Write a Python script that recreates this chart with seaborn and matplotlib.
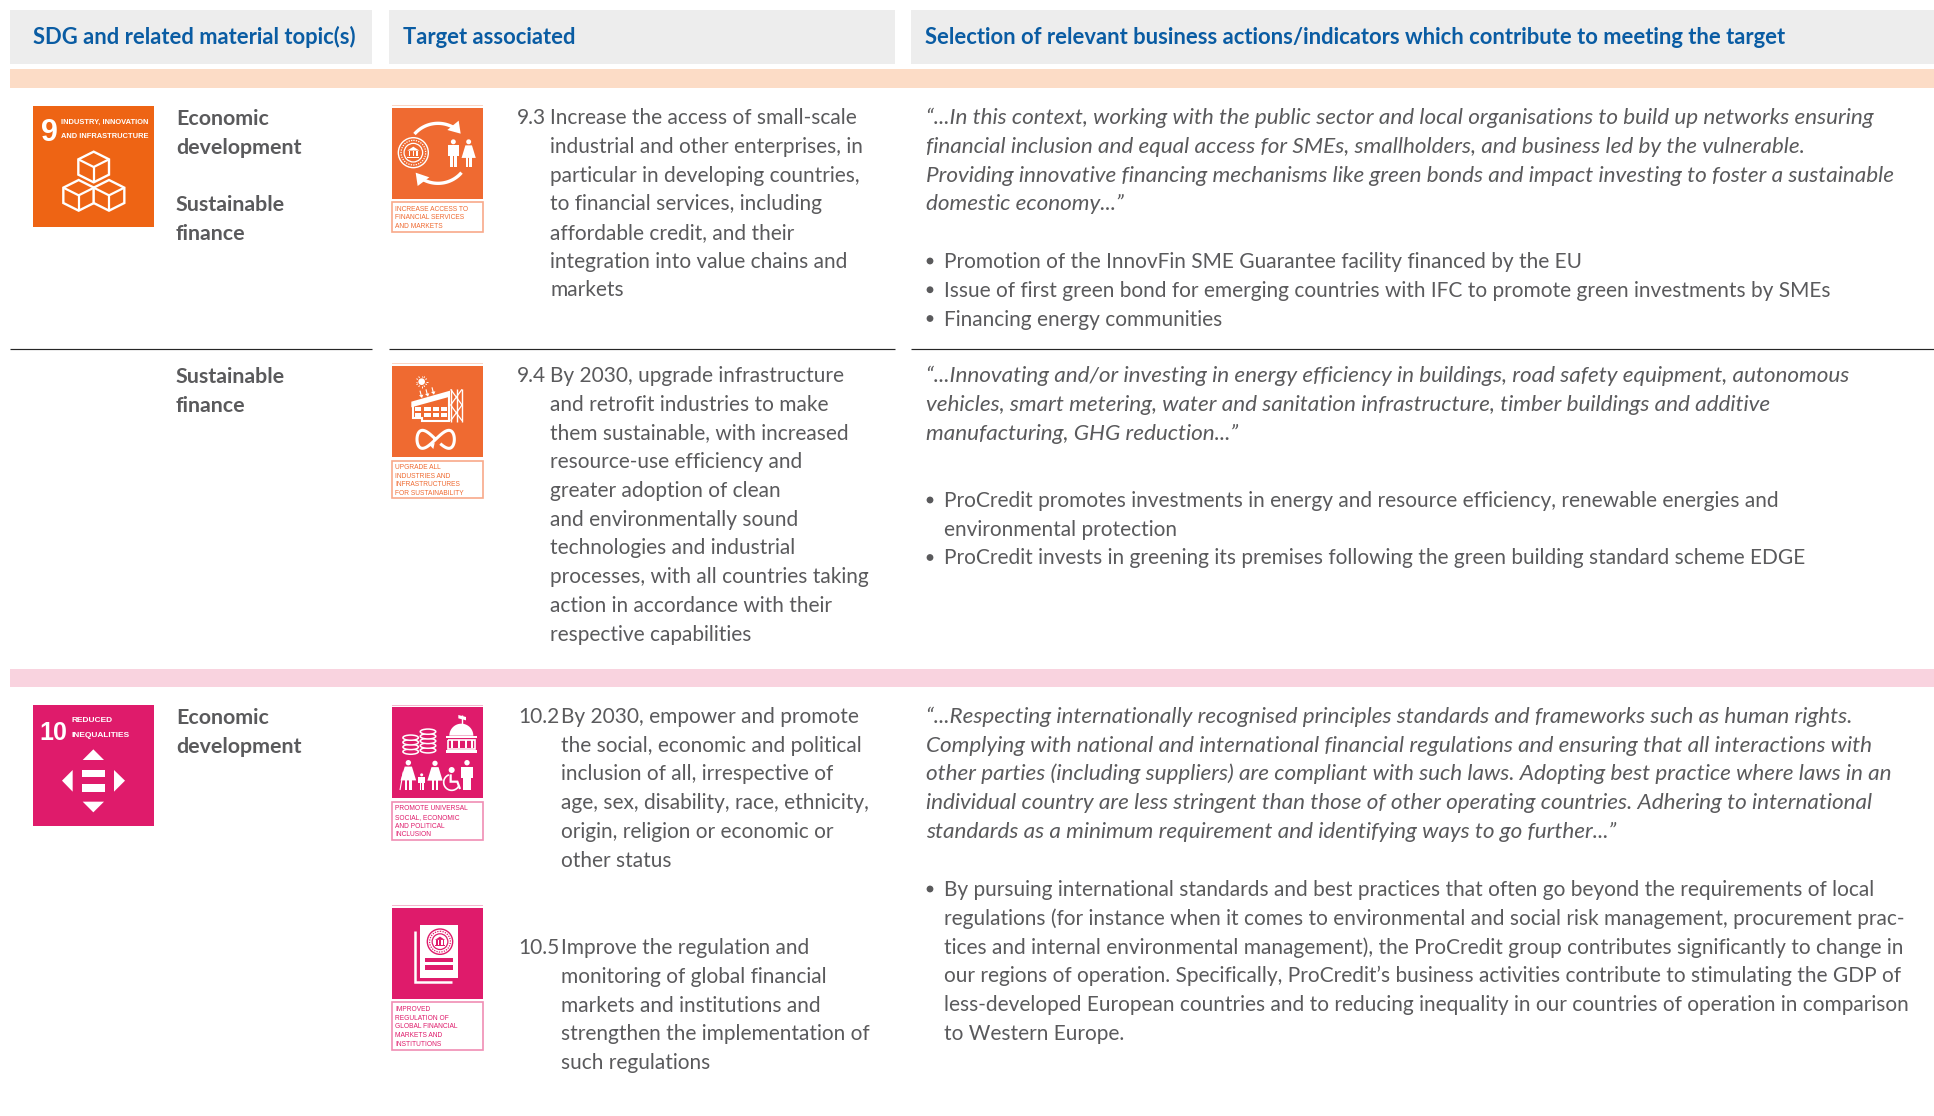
import numpy as np
import matplotlib
matplotlib.use('Agg')
import matplotlib.pyplot as plt
from matplotlib.patches import Rectangle, Polygon, Circle, Ellipse
import seaborn as sns

# Texts of the table
header_labels = ['SDG and related material topic(s)', 'Target associated',
                 'Selection of relevant business actions/indicators which contribute to meeting the target']

topics_9 = ['Economic', 'development', '', 'Sustainable', 'finance']
topics_94 = ['Sustainable', 'finance']
topics_10 = ['Economic', 'development']

target_93 = ['Increase the access of small-scale', 'industrial and other enterprises, in',
             'particular in developing countries,', 'to financial services, including',
             'affordable credit, and their', 'integration into value chains and', 'markets']
target_94 = ['By 2030, upgrade infrastructure', 'and retrofit industries to make',
             'them sustainable, with increased', 'resource-use efficiency and',
             'greater adoption of clean', 'and environmentally sound',
             'technologies and industrial', 'processes, with all countries taking',
             'action in accordance with their', 'respective capabilities']
target_102 = ['By 2030, empower and promote', 'the social, economic and political',
              'inclusion of all, irrespective of', 'age, sex, disability, race, ethnicity,',
              'origin, religion or economic or', 'other status']
target_105 = ['Improve the regulation and', 'monitoring of global financial',
              'markets and institutions and', 'strengthen the implementation of',
              'such regulations']

quote_93 = ['“...In this context, working with the public sector and local organisations to build up networks ensuring',
            'financial inclusion and equal access for SMEs, smallholders, and business led by the vulnerable.',
            'Providing innovative financing mechanisms like green bonds and impact investing to foster a sustainable',
            'domestic economy...”']
bullets_93 = [['Promotion of the InnovFin SME Guarantee facility financed by the EU'],
              ['Issue of first green bond for emerging countries with IFC to promote green investments by SMEs'],
              ['Financing energy communities']]
quote_94 = ['“...Innovating and/or investing in energy efficiency in buildings, road safety equipment, autonomous',
            'vehicles, smart metering, water and sanitation infrastructure, timber buildings and additive',
            'manufacturing, GHG reduction...”']
bullets_94 = [['ProCredit promotes investments in energy and resource efficiency, renewable energies and',
               'environmental protection'],
              ['ProCredit invests in greening its premises following the green building standard scheme EDGE']]
quote_10 = ['“...Respecting internationally recognised principles standards and frameworks such as human rights.',
            'Complying with national and international financial regulations and ensuring that all interactions with',
            'other parties (including suppliers) are compliant with such laws. Adopting best practice where laws in an',
            'individual country are less stringent than those of other operating countries. Adhering to international',
            'standards as a minimum requirement and identifying ways to go further...”']
bullets_10 = [['By pursuing international standards and best practices that often go beyond the requirements of local',
               'regulations (for instance when it comes to environmental and social risk management, procurement prac-',
               'tices and internal environmental management), the ProCredit group contributes significantly to change in',
               'our regions of operation. Specifically, ProCredit’s business activities contribute to stimulating the GDP of',
               'less-developed European countries and to reducing inequality in our countries of operation in comparison',
               'to Western Europe.']]

label_93 = ['INCREASE ACCESS TO', 'FINANCIAL SERVICES', 'AND MARKETS']
label_94 = ['UPGRADE ALL', 'INDUSTRIES AND', 'INFRASTRUCTURES', 'FOR SUSTAINABILITY']
label_102 = ['PROMOTE UNIVERSAL', 'SOCIAL, ECONOMIC', 'AND POLITICAL', 'INCLUSION']
label_105 = ['IMPROVED', 'REGULATION OF', 'GLOBAL FINANCIAL', 'MARKETS AND', 'INSTITUTIONS']

BLUE = '#0A5CA3'
GREY = '#5A5A5C'
HEAD_BG = '#EDEDED'
ORANGE = '#EE6414'
ORANGE2 = '#EF6A31'
MAGENTA = '#DF1B6B'
PITCH = 28.75
BODY = 15.0
ITALIC = 16.2
SMALLCAPS = 'Liberation Sans'

sns.set_theme(style='white')
plt.rcParams['font.family'] = ['Lato', 'DejaVu Sans']

fig = plt.figure(figsize=(19.34, 11.16), dpi=100)
ax = fig.add_axes([0, 0, 1, 1])
ax.set_xlim(0, 1934)
ax.set_ylim(1116, 0)
sns.despine(ax=ax, left=True, bottom=True)
ax.axis('off')


def rect(x0, y0, x1, y1, **kw):
    kw.setdefault('lw', 0)
    ax.add_patch(Rectangle((x0, y0), x1 - x0, y1 - y0, **kw))


def lines(x, y, rows, size=BODY, pitch=PITCH, **kw):
    kw.setdefault('color', GREY)
    for i, row in enumerate(rows):
        ax.text(x, y + i * pitch, row, fontsize=size, va='baseline', ha='left', **kw)


def bullets(x, y, items):
    n = 0
    for item in items:
        ax.add_patch(Circle((x + 4, y + n * PITCH - 7), 3.4, color=GREY, lw=0))
        lines(x + 18, y + n * PITCH, item)
        n += len(item)


# zoom-crop coordinates (3x) back to pixels
def zp(pts, ox, oy):
    return [(ox + a / 3, oy + b / 3) for a, b in pts]


def poly(pts, ox, oy, color='white', **kw):
    kw.setdefault('lw', 0)
    ax.add_patch(Polygon(zp(pts, ox, oy), closed=True, facecolor=color, **kw))


def stroke(pts, ox, oy, lw=1.6, color='white', **kw):
    p = zp(pts, ox, oy)
    ax.plot([a for a, _ in p], [b for _, b in p], color=color, lw=lw,
            solid_capstyle='butt', solid_joinstyle='miter', **kw)


def ring(cx, cy, r, ox, oy, lw=1.0, color='white', fill='none', **kw):
    x, y = zp([(cx, cy)], ox, oy)[0]
    ax.add_patch(Circle((x, y), r / 3, facecolor=fill, edgecolor=color, lw=lw, **kw))


def box(a, b, c, d, ox, oy, color='white'):
    poly([(a, b), (c, b), (c, d), (a, d)], ox, oy, color=color)


def arc(cx, cy, rx, ry, a0, a1, ox, oy, lw=2.4, color='white'):
    t = np.radians(np.linspace(a0, a1, 40))
    stroke(list(zip(cx + rx * np.cos(t), cy + ry * np.sin(t))), ox, oy, lw=lw, color=color)


def person(cx, top, h, ox, oy, dress=False, color='white'):
    w = h * 0.2
    ring(cx, top + h * 0.09, h * 0.09, ox, oy, fill=color, color=color, lw=0)
    if dress:
        poly([(cx - w * 0.6, top + h * 0.22), (cx + w * 0.6, top + h * 0.22),
              (cx + w * 1.3, top + h * 0.68), (cx - w * 1.3, top + h * 0.68)], ox, oy, color=color)
        box(cx - w * 0.55, top + h * 0.66, cx - w * 0.15, top + h, ox, oy, color)
        box(cx + w * 0.15, top + h * 0.66, cx + w * 0.55, top + h, ox, oy, color)
    else:
        box(cx - w, top + h * 0.22, cx + w, top + h * 0.6, ox, oy, color)
        box(cx - w * 0.62, top + h * 0.55, cx - w * 0.08, top + h, ox, oy, color)
        box(cx + w * 0.08, top + h * 0.55, cx + w * 0.62, top + h, ox, oy, color)


def seal(cx, cy, r, ox, oy, color='white'):
    ring(cx, cy, r, ox, oy, lw=1.0, color=color)
    ring(cx, cy, r * 0.82, ox, oy, lw=0.9, color=color, linestyle=(0, (1, 1)))
    ring(cx, cy, r * 0.62, ox, oy, lw=0.9, color=color)
    s = r * 0.4
    poly([(cx - s, cy - s * 0.35), (cx, cy - s), (cx + s, cy - s * 0.35)], ox, oy, color=color)
    for dx in (-0.7, -0.1, 0.5):
        box(cx + dx * s, cy - s * 0.25, cx + (dx + 0.22) * s, cy + s * 0.6, ox, oy, color)
    box(cx - s, cy + s * 0.65, cx + s, cy + s * 0.85, ox, oy, color)


def cube(cx, top, ox, oy, hw=46, hh=23, edge=46):
    poly([(cx, top), (cx + hw, top + hh), (cx + hw, top + hh + edge), (cx, top + 2 * hh + edge),
          (cx - hw, top + hh + edge), (cx - hw, top + hh)], ox, oy, color=ORANGE,
         edgecolor='white', lw=1.7, joinstyle='miter')
    stroke([(cx - hw, top + hh), (cx, top + 2 * hh), (cx + hw, top + hh)], ox, oy)
    stroke([(cx, top + 2 * hh), (cx, top + 2 * hh + edge)], ox, oy)


def label_box(x0, y0, x1, y1, rows, color, pale, size=4.8, pitch=8.6):
    rect(x0, y0, x1, y1, facecolor='white', edgecolor=pale, lw=1.2)
    h = pitch * (len(rows) - 1)
    ytop = (y0 + y1) / 2 - h / 2 + 2.4
    lines(x0 + 3, ytop, rows, size=size, pitch=pitch, color=color, family=SMALLCAPS)


# Header and coloured bands
rect(10, 10, 372, 64, facecolor=HEAD_BG)
rect(389, 10, 895, 64, facecolor=HEAD_BG)
rect(911, 10, 1934, 64, facecolor=HEAD_BG)
rect(10, 69, 1934, 88, facecolor='#FCDCC6')
rect(10, 669, 1934, 687, facecolor='#F9D3DF')
for x0, x1 in [(10, 372), (389, 895), (911, 1934)]:
    ax.plot([x0, x1], [348.5, 348.5], color='#262626', lw=0.85, solid_capstyle='butt')

for x, text in zip([33, 403, 925], header_labels):
    ax.text(x, 44.5, text, fontsize=15.85, color=BLUE, fontweight='bold', va='baseline')

# Column 1
lines(176, 125, topics_9, size=15.4, weight='bold')
lines(176, 383, topics_94, size=15.4, weight='bold')
lines(176, 724, topics_10, size=15.4, weight='bold')

# Column 2
lines(517, 124, ['9.3'])
lines(550, 124, target_93)
lines(517, 382, ['9.4'])
lines(550, 382, target_94)
lines(518, 723, ['10.2'])
lines(561, 723, target_102)
lines(518, 954, ['10.5'])
lines(561, 954, target_105)

# Column 3
lines(926, 124, quote_93, size=ITALIC, style='italic')
bullets(926, 268, bullets_93)
lines(926, 382, quote_94, size=ITALIC, style='italic')
bullets(926, 507, bullets_94)
lines(926, 723, quote_10, size=ITALIC, style='italic')
bullets(926, 896, bullets_10)

# SDG 9 tile
rect(33, 106, 154, 227, facecolor=ORANGE)
ax.text(41, 141, '9', fontsize=22, color='white', fontweight='bold', family=SMALLCAPS, va='baseline')
lines(61, 123.4, ['INDUSTRY, INNOVATION', 'AND INFRASTRUCTURE'], size=5.4, pitch=14.5,
      color='white', family=SMALLCAPS, weight='bold')
cube(281, 455, 0, 0)
cube(236, 540, 0, 0)
cube(327, 540, 0, 0)

# Target 9.3 icon
ox, oy = 370, 90
rect(392, 108, 483, 199, facecolor=ORANGE2)
rect(392, 105, 483, 106, facecolor='#FBD5C4')
arc(204, 190, 92, 90, 220, 308, ox, oy)
poly([(272, 131), (232, 120), (266, 92)], ox, oy)
arc(204, 190, 92, 90, 40, 128, ox, oy)
poly([(137, 248), (178, 262), (143, 288)], ox, oy)
seal(130, 188, 45, ox, oy)
person(250, 148, 82, ox, oy)
person(296, 148, 82, ox, oy, dress=True)
label_box(392, 202, 483, 232, label_93, ORANGE2, '#F8A98A')

# Target 9.4 icon
ox, oy = 370, 350
rect(392, 366, 483, 457, facecolor=ORANGE2)
rect(392, 363, 483, 364, facecolor='#FBD5C4')
ring(155, 95, 10, ox, oy, fill='white', lw=0)
for a in np.radians(np.arange(0, 360, 30)):
    stroke([(155 + 13 * np.cos(a), 95 + 13 * np.sin(a)), (155 + 18 * np.cos(a), 95 + 18 * np.sin(a))],
           ox, oy, lw=0.7)
for ax_, ay_ in [(150, 122), (168, 118), (186, 112)]:
    stroke([(ax_, ay_), (ax_ + 4, ay_ + 16)], ox, oy, lw=0.8)
    poly([(ax_ - 3, ay_ + 14), (ax_ + 10, ay_ + 12), (ax_ + 6, ay_ + 22)], ox, oy)
poly([(124, 155), (240, 122), (240, 140), (124, 172)], ox, oy)
stroke([(128, 160), (128, 205), (156, 205), (156, 212), (236, 212), (236, 130)], ox, oy, lw=1.5)
for wx in (134, 162, 188, 212):
    box(wx, 170, wx + 20, 184, ox, oy)
    box(wx, 188, wx + 20, 202, ox, oy)
for sx in (242, 260, 276):
    stroke([(sx, 118), (sx, 215)], ox, oy, lw=1.0)
for sy in (118, 165):
    stroke([(242, sy), (276, sy + 47)], ox, oy, lw=0.9)
    stroke([(276, sy), (242, sy + 47)], ox, oy, lw=0.9)
t = np.linspace(0.25, 2 * np.pi - 0.05, 120)
stroke(list(zip(197 + 56 * np.sin(t), 268 + 27 * np.sin(2 * t))), ox, oy, lw=2.2)
poly([(176, 282), (194, 279), (190, 297)], ox, oy)
label_box(392, 461, 483, 498, label_94, ORANGE2, '#F8A98A')

# SDG 10 tile
ox, oy = 20, 690
rect(33, 705, 154, 826, facecolor=MAGENTA)
ax.text(39, 740, '10', fontsize=18, color='white', fontweight='bold', family=SMALLCAPS, va='baseline')
lines(71, 722.5, ['REDUCED', 'INEQUALITIES'], size=6.0, pitch=14.5, color='white', family=SMALLCAPS, weight='bold')
poly([(220, 178), (188, 210), (252, 210)], ox, oy)
poly([(158, 240), (126, 272), (158, 305)], ox, oy)
poly([(282, 240), (315, 272), (282, 305)], ox, oy)
poly([(188, 335), (252, 335), (220, 367)], ox, oy)
box(186, 240, 254, 262, ox, oy)
box(186, 283, 254, 305, ox, oy)

# Target 10.2 icon
ox, oy = 380, 695
rect(392, 707, 483, 798, facecolor=MAGENTA)
rect(392, 705, 483, 706, facecolor='#F5B5CE')
for cx, tops in [(92, (128, 142, 156, 170)), (144, (110, 124, 138, 152, 166))]:
    for top in reversed(tops):
        ax.add_patch(Ellipse(zp([(cx, top)], ox, oy)[0], 15.5, 5.2, facecolor=MAGENTA, edgecolor='white', lw=1.1))
poly([(198, 122), (290, 122), (290, 130), (198, 130)], ox, oy)
poly(list(zip(244 + 36 * np.cos(np.linspace(np.pi, 2 * np.pi, 30)),
              122 + 36 * np.sin(np.linspace(np.pi, 2 * np.pi, 30)))), ox, oy)
stroke([(245, 86), (245, 60)], ox, oy, lw=1.0)
poly([(235, 60), (258, 66), (258, 76), (235, 70)], ox, oy)
stroke([(203, 135), (285, 135), (285, 162), (203, 162), (203, 135)], ox, oy, lw=1.2)
for bx in (212, 233, 255, 274):
    box(bx, 135, bx + 6, 160, ox, oy)
box(198, 165, 290, 175, ox, oy)
person(85, 195, 90, ox, oy, dress=True)
stroke([(70, 230), (60, 285)], ox, oy, lw=0.8)
person(125, 235, 50, ox, oy)
person(165, 197, 88, ox, oy, dress=True)
ring(215, 225, 9, ox, oy, fill='white', lw=0)
arc(215, 262, 24, 24, 30, 250, ox, oy, lw=1.2)
stroke([(212, 238), (212, 260), (232, 260), (240, 282)], ox, oy, lw=1.6)
person(261, 195, 90, ox, oy)
label_box(392, 802, 483, 840, label_102, MAGENTA, '#F08DB4')

# Target 10.5 icon
ox, oy = 380, 900
rect(392, 908, 483, 999, facecolor=MAGENTA)
rect(392, 905, 483, 906, facecolor='#F5B5CE')
stroke([(106, 93), (106, 247), (216, 247)], ox, oy, lw=1.8)
box(120, 75, 233, 235, ox, oy)
seal(180, 125, 38, ox, oy, color=MAGENTA)
box(135, 173, 219, 187, ox, oy, color=MAGENTA)
box(135, 196, 219, 210, ox, oy, color=MAGENTA)
label_box(392, 1002, 483, 1050, label_105, MAGENTA, '#F08DB4')

fig.savefig('out.png', dpi=100, facecolor='white')
